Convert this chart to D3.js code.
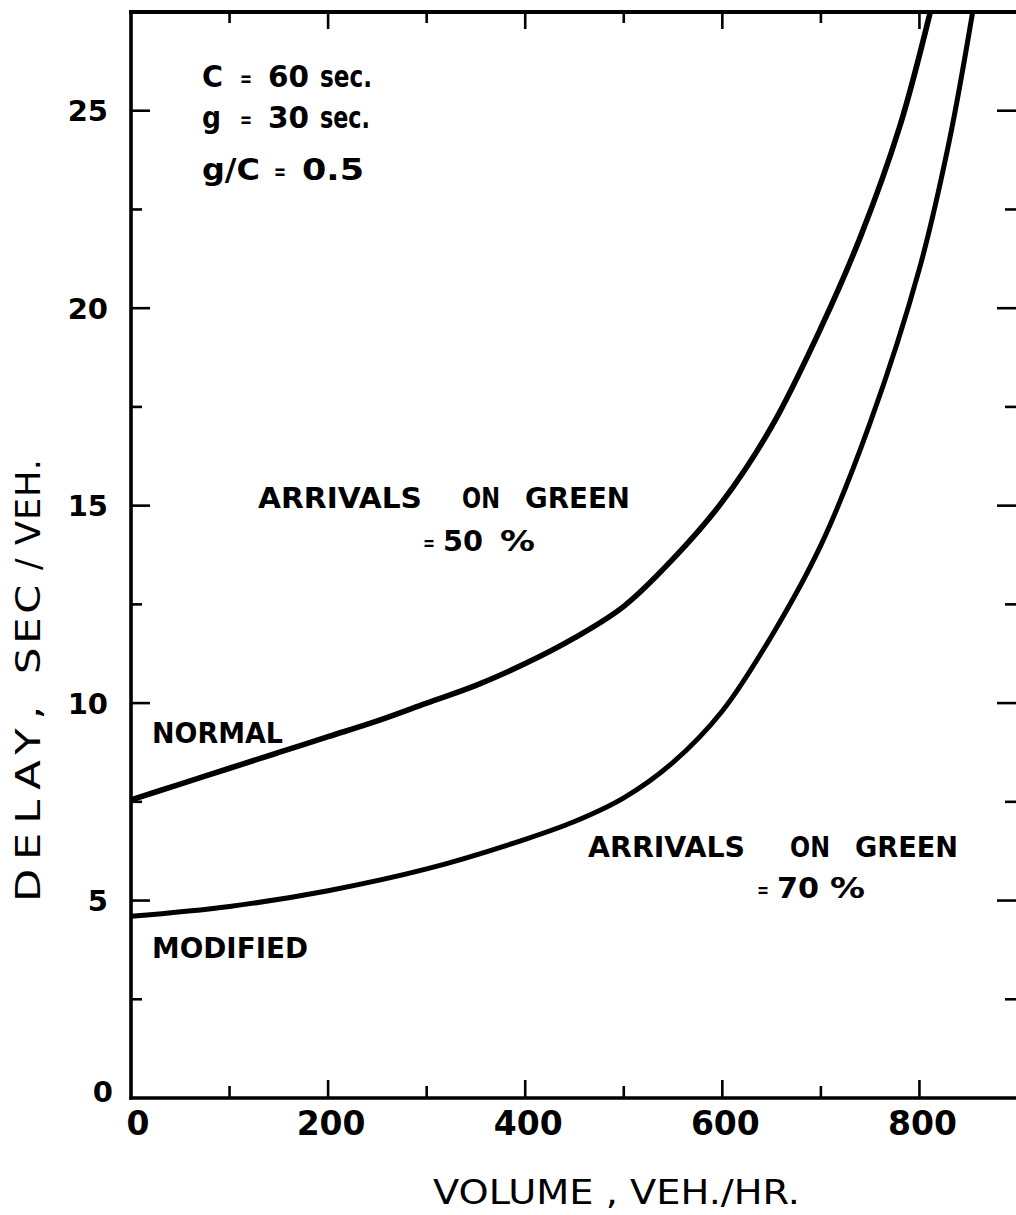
<!DOCTYPE html>
<html>
<head>
<meta charset="utf-8">
<script src="https://cdn.jsdelivr.net/npm/d3@7"></script>
<style>
  html, body { margin: 0; padding: 0; background: #fff; }
  svg { display: block; }
  text { fill: #000; font-family: "DejaVu Sans", sans-serif; }
</style>
</head>
<body>
<svg id="chart" width="1016" height="1215"></svg>
<script>
// Delay vs. volume for a pretimed signal (C = 60 s, g = 30 s)
const normalVolume  = [0, 50, 100, 150, 200, 250, 300, 350, 400, 450, 500, 550, 600, 650, 700, 740, 780, 811];
const normalDelay   = [7.55, 7.95, 8.35, 8.75, 9.15, 9.55, 10.0, 10.45, 11.0, 11.65, 12.45, 13.65, 15.1, 17.0, 19.5, 21.8, 24.6, 27.5];

const modifiedVolume = [0, 100, 200, 300, 400, 450, 500, 550, 600, 650, 700, 750, 800, 830, 854];
const modifiedDelay  = [4.6, 4.85, 5.25, 5.8, 6.55, 7.0, 7.6, 8.5, 9.8, 11.7, 14.0, 17.1, 21.0, 24.2, 27.5];

const xTickLabels = [0, 200, 400, 600, 800];
const yTickLabels = [0, 5, 10, 15, 20, 25];
const xMinorTicks = [100, 300, 500, 700];
const yMinorTicks = [2.5, 7.5, 12.5, 17.5, 22.5];

const svg = d3.select("#chart");

const x = d3.scaleLinear().domain([0, 900]).range([131, 1018]);
const y = d3.scaleLinear().domain([0, 27.5]).range([1098, 12]);

// frame
const frame = svg.append("g").attr("stroke", "#000").attr("fill", "none").attr("stroke-linecap", "square");
frame.append("line").attr("x1", x(0)).attr("x2", x(0)).attr("y1", y(27.5)).attr("y2", y(0)).attr("stroke-width", 3.6);
frame.append("line").attr("x1", x(0)).attr("x2", x(900)).attr("y1", y(0)).attr("y2", y(0)).attr("stroke-width", 3.4);
frame.append("line").attr("x1", x(0)).attr("x2", x(900)).attr("y1", y(27.5)).attr("y2", y(27.5)).attr("stroke-width", 4);
frame.append("line").attr("x1", x(900)).attr("x2", x(900)).attr("y1", y(27.5)).attr("y2", y(0)).attr("stroke-width", 3);

// ticks on all four sides (inward)
const tickG = svg.append("g").attr("stroke", "#000").attr("stroke-width", 2.6);
const majorX = xTickLabels.filter(v => v > 0);
[[majorX, 18], [xMinorTicks, 12]].forEach(([vals, len]) => {
  tickG.selectAll(null).data(vals).join("line")
    .attr("x1", d => x(d)).attr("x2", d => x(d))
    .attr("y1", y(0)).attr("y2", y(0) - len);
  tickG.selectAll(null).data(vals).join("line")
    .attr("x1", d => x(d)).attr("x2", d => x(d))
    .attr("y1", y(27.5)).attr("y2", y(27.5) + len - 1);
});
const majorY = yTickLabels.filter(v => v > 0);
[[majorY, 19], [yMinorTicks, 11]].forEach(([vals, len]) => {
  tickG.selectAll(null).data(vals).join("line")
    .attr("x1", x(0)).attr("x2", x(0) + len)
    .attr("y1", d => y(d)).attr("y2", d => y(d));
  tickG.selectAll(null).data(vals).join("line")
    .attr("x1", x(900)).attr("x2", x(900) - len - 2)
    .attr("y1", d => y(d)).attr("y2", d => y(d));
});

// tick labels
svg.append("g").selectAll("text").data(xTickLabels).join("text")
  .attr("x", d => x(d) + (d === 0 ? 7 : 3))
  .attr("y", 1135)
  .attr("text-anchor", "middle")
  .attr("font-size", 33).attr("font-weight", "bold")
  .text(d => d);

svg.append("g").selectAll("text").data(yTickLabels).join("text")
  .attr("x", d => d === 0 ? 113 : 108)
  .attr("y", d => y(d) + 10.5 - (d === 0 ? 7 : 0))
  .attr("text-anchor", "end")
  .attr("font-size", 29).attr("font-weight", "bold")
  .text(d => d);

// curves
const line = d3.line().x(d => x(d[0])).y(d => y(d[1])).curve(d3.curveCatmullRom.alpha(0.5));
svg.append("path")
  .datum(d3.zip(normalVolume, normalDelay))
  .attr("d", line).attr("fill", "none").attr("stroke", "#000")
  .attr("stroke-width", 5.6).attr("stroke-linecap", "butt");
svg.append("path")
  .datum(d3.zip(modifiedVolume, modifiedDelay))
  .attr("d", line).attr("fill", "none").attr("stroke", "#000")
  .attr("stroke-width", 5).attr("stroke-linecap", "butt");

// lettering: [text, left x, baseline, width, size]
const words = [
  ["C",    202, 87, 21, 30], ["=", 240, 86, 12, 22], ["60", 268, 87, 41, 30], ["sec.", 320, 87, 52, 30],
  ["g",    202, 128, 19, 30], ["=", 240, 127, 12, 22], ["30", 268, 128, 41, 30], ["sec.", 320, 128, 50, 30],
  ["g/C",  202, 180, 58, 30], ["=", 274, 179, 12, 22], ["0.5", 302, 180, 62, 30],
  ["NORMAL",   152, 743, 131, 29],
  ["MODIFIED", 152, 958, 156, 29],
  ["ARRIVALS", 258, 508, 164, 29], ["ON", 462, 508, 38, 29], ["GREEN", 525, 508, 105, 29],
  ["=", 423, 550, 12, 20], ["50", 443, 551, 40, 29], ["%", 500, 551, 35, 29],
  ["ARRIVALS", 588, 857, 157, 29], ["ON", 790, 857, 40, 29], ["GREEN", 855, 857, 103, 29],
  ["=", 757, 897, 12, 20], ["70", 777, 898, 42, 29], ["%", 830, 898, 35, 29]
];
svg.append("g").selectAll("text").data(words).join("text")
  .attr("x", d => d[1]).attr("y", d => d[2])
  .attr("font-size", d => d[4]).attr("font-weight", "bold")
  .attr("textLength", d => d[3]).attr("lengthAdjust", "spacingAndGlyphs")
  .text(d => d[0]);

// axis titles
svg.append("text")
  .attr("x", 433).attr("y", 1204)
  .attr("font-size", 34)
  .attr("textLength", 367).attr("lengthAdjust", "spacingAndGlyphs")
  .text("VOLUME , VEH./HR.");

// vertical title, word by word: [text, offset along the baseline, length, letter spacing]
const yTitle = [["DELAY,", 0, 205, 7], ["SEC", 228, 93, 3], ["/", 332, null, 0], ["VEH.", 357, 87, 1]];
svg.append("g")
  .attr("transform", "translate(40,902) rotate(-90)")
  .selectAll("text").data(yTitle).join("text")
  .attr("x", d => d[1]).attr("y", 0)
  .attr("font-size", 34)
  .attr("letter-spacing", d => d[3])
  .attr("textLength", d => d[2])
  .attr("lengthAdjust", d => d[2] ? "spacingAndGlyphs" : null)
  .text(d => d[0]);
</script>
</body>
</html>
